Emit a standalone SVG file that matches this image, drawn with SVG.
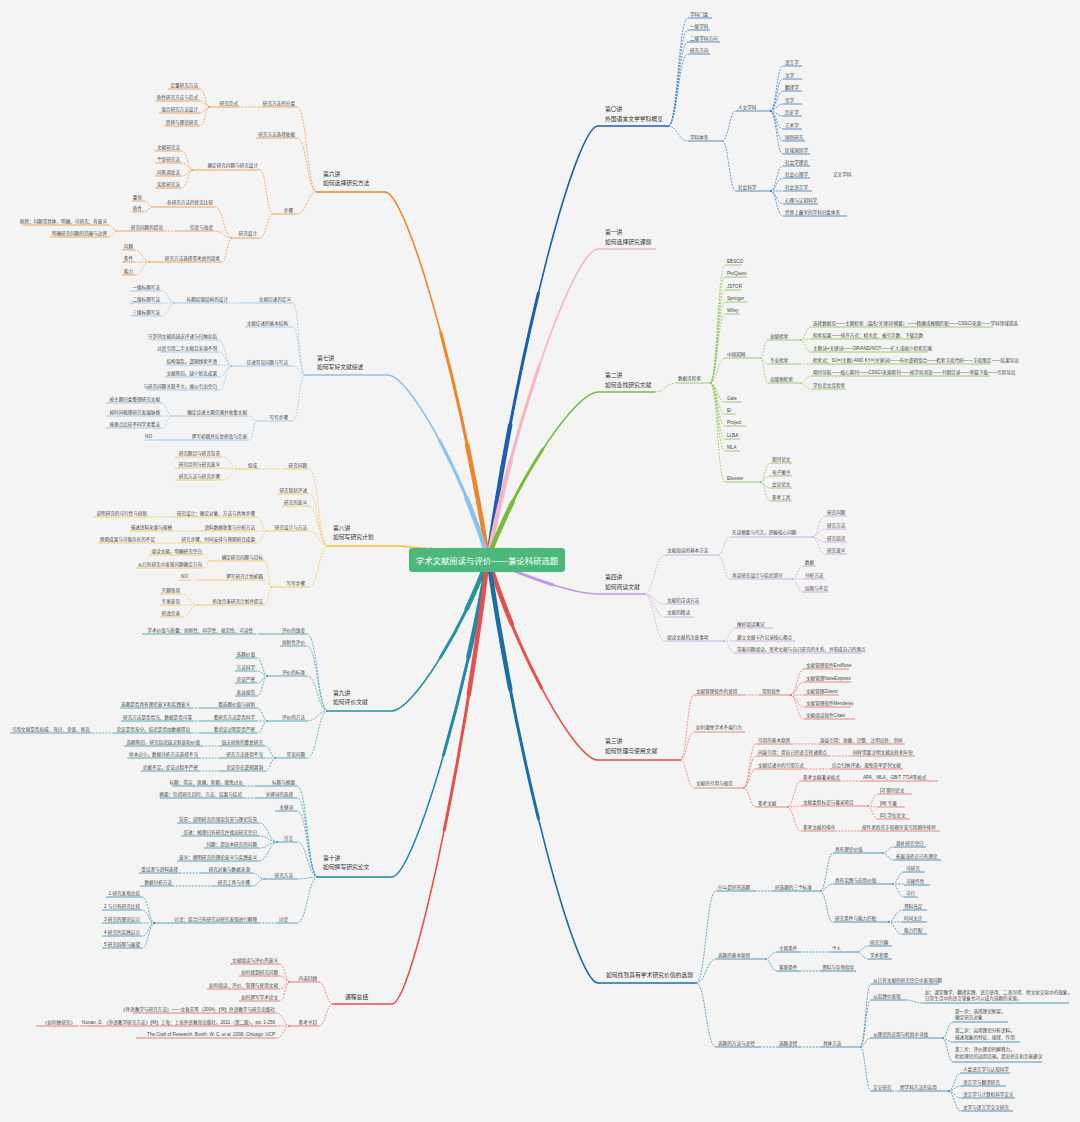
<svg xmlns="http://www.w3.org/2000/svg" width="1080" height="1122" viewBox="0 0 1080 1122">
<style>
.t{font-family:"Liberation Sans","Noto Sans CJK SC",sans-serif;font-size:4.6px;fill:#444}
.e{text-anchor:end}
.h{font-family:"Liberation Sans","Noto Sans CJK SC",sans-serif;font-size:5.8px;fill:#333}
.c{font-family:"Liberation Sans","Noto Sans CJK SC",sans-serif;font-size:8.4px;fill:#fff;text-anchor:middle}
.u{fill:none;stroke-width:.8}
.ut{fill:none;stroke-width:1.4}
.d{fill:none;stroke-width:.7;stroke-dasharray:2 1.2}
.m{fill:none;stroke-linecap:round}
.k1{stroke:#2f74c0}.k2{stroke:#f4aebf}.k3{stroke:#84c450}.k4{stroke:#c6a0e2}.k5{stroke:#e86a60}.k6{stroke:#2a7fb0}
.k7{stroke:#f0913a}.k8{stroke:#8fc3ec}.k9{stroke:#f3c24a}.k10{stroke:#2f9aaa}.k11{stroke:#2a8db0}.k12{stroke:#e8605a}
</style>
<rect width="1080" height="1122" fill="#f4f4f4"/>
<g id="connectors">
<g id="main-branches">
<g class="m" stroke="#1c5fae"><path d="M488 558C519 342 576 126 598 126" stroke-width="1.6"/><path d="M488 558C519 342 576 126 598 126" stroke-width="3" pathLength="100" stroke-dasharray="60 200"/><path d="M488 558C519 342 576 126 598 126" stroke-width="4.5" pathLength="100" stroke-dasharray="30 200"/></g>
<g class="m" stroke="#f6b4c4"><path d="M488 558C519 403 576 249 598 249" stroke-width="1.6"/><path d="M488 558C519 403 576 249 598 249" stroke-width="3" pathLength="100" stroke-dasharray="60 200"/><path d="M488 558C519 403 576 249 598 249" stroke-width="4.5" pathLength="100" stroke-dasharray="30 200"/></g>
<g class="m" stroke="#76bc3c"><path d="M488 558C519 475 576 392 598 392" stroke-width="1.6"/><path d="M488 558C519 475 576 392 598 392" stroke-width="3" pathLength="100" stroke-dasharray="60 200"/><path d="M488 558C519 475 576 392 598 392" stroke-width="4.5" pathLength="100" stroke-dasharray="30 200"/></g>
<g class="m" stroke="#c597e6"><path d="M488 558C519 576 576 594 598 594" stroke-width="1.6"/><path d="M488 558C519 576 576 594 598 594" stroke-width="3" pathLength="100" stroke-dasharray="60 200"/></g>
<g class="m" stroke="#e4504a"><path d="M488 558C519 659 576 760 598 760" stroke-width="1.6"/><path d="M488 558C519 659 576 760 598 760" stroke-width="3" pathLength="100" stroke-dasharray="60 200"/><path d="M488 558C519 659 576 760 598 760" stroke-width="4.5" pathLength="100" stroke-dasharray="30 200"/></g>
<g class="m" stroke="#1b6fa3"><path d="M488 558C519 770 576 983 598 983" stroke-width="1.6"/><path d="M488 558C519 770 576 983 598 983" stroke-width="3" pathLength="100" stroke-dasharray="60 200"/><path d="M488 558C519 770 576 983 598 983" stroke-width="4.5" pathLength="100" stroke-dasharray="30 200"/></g>
<g class="m" stroke="#ee8528"><path d="M488 558C459 375 406 192 385 192" stroke-width="1.6"/><path d="M488 558C459 375 406 192 385 192" stroke-width="3" pathLength="100" stroke-dasharray="60 200"/><path d="M488 558C459 375 406 192 385 192" stroke-width="4.5" pathLength="100" stroke-dasharray="30 200"/></g>
<g class="m" stroke="#8cc2ee"><path d="M488 558C460 466 408 375 388 375" stroke-width="1.6"/><path d="M488 558C460 466 408 375 388 375" stroke-width="3" pathLength="100" stroke-dasharray="60 200"/><path d="M488 558C460 466 408 375 388 375" stroke-width="4.5" pathLength="100" stroke-dasharray="30 200"/></g>
<g class="m" stroke="#f4bf3a"><path d="M488 558C461 552 411 546 392 546" stroke-width="1.6"/><path d="M488 558C461 552 411 546 392 546" stroke-width="3" pathLength="100" stroke-dasharray="60 200"/></g>
<g class="m" stroke="#27929f"><path d="M488 558C461 634 411 711 392 711" stroke-width="1.6"/><path d="M488 558C461 634 411 711 392 711" stroke-width="3" pathLength="100" stroke-dasharray="60 200"/><path d="M488 558C461 634 411 711 392 711" stroke-width="4.5" pathLength="100" stroke-dasharray="30 200"/></g>
<g class="m" stroke="#2188a9"><path d="M488 558C461 717 411 877 392 877" stroke-width="1.6"/><path d="M488 558C461 717 411 877 392 877" stroke-width="3" pathLength="100" stroke-dasharray="60 200"/><path d="M488 558C461 717 411 877 392 877" stroke-width="4.5" pathLength="100" stroke-dasharray="30 200"/></g>
<g class="m" stroke="#e4504a"><path d="M488 558C461 781 411 1004 392 1004" stroke-width="1.6"/><path d="M488 558C461 781 411 1004 392 1004" stroke-width="3" pathLength="100" stroke-dasharray="60 200"/><path d="M488 558C461 781 411 1004 392 1004" stroke-width="4.5" pathLength="100" stroke-dasharray="30 200"/></g>
</g>
<g class="d k1">
<path d="M668 126C678 126 678 18 688 18M668 126C678 126 678 30 688 30M668 126C678 126 678 42 688 42M668 126C678 126 678 54 688 54M668 126C678 126 678 141 688 141"/>
<path d="M722 141C729 141 729 111 736 111M722 141C729 141 729 191 736 191"/>
<path d="M770 111C776.5 111 776.5 66 783 66M770 111C776.5 111 776.5 79 783 79M770 111C776.5 111 776.5 91 783 91M770 111C776.5 111 776.5 104 783 104M770 111C776.5 111 776.5 116 783 116M770 111C776.5 111 776.5 129 783 129M770 111C776.5 111 776.5 141 783 141M770 111C776.5 111 776.5 154 783 154"/>
<path d="M770 191C776.5 191 776.5 166 783 166M770 191C776.5 191 776.5 178 783 178M770 191H783M770 191C776.5 191 776.5 204 783 204M770 191C776.5 191 776.5 216 783 216"/>
</g>
<g class="d k3">
<path d="M655 392C665.5 392 665.5 383 676 383"/>
<path d="M710 383C717.5 383 717.5 265 725 265M710 383C717.5 383 717.5 277 725 277M710 383C717.5 383 717.5 290 725 290M710 383C717.5 383 717.5 302 725 302M710 383C717.5 383 717.5 314 725 314M710 383C717.5 383 717.5 358 725 358M710 383C717.5 383 717.5 402 725 402M710 383C717.5 383 717.5 414 725 414M710 383C717.5 383 717.5 426 725 426M710 383C717.5 383 717.5 439 725 439M710 383C717.5 383 717.5 451 725 451M710 383C717.5 383 717.5 482 725 482"/>
<path d="M760 358C764 358 764 340 768 340M760 358C764 358 764 364 768 364M760 358C764 358 764 383 768 383"/>
<path d="M800 340C805.5 340 805.5 327 811 327M800 340C805.5 340 805.5 339 811 339M800 340C805.5 340 805.5 352 811 352M800 364H811M800 383C805.5 383 805.5 376 811 376M800 383C805.5 383 805.5 389 811 389"/>
<path d="M760 482C765 482 765 463 770 463M760 482C765 482 765 476 770 476M760 482C765 482 765 488 770 488M760 482C765 482 765 501 770 501"/>
</g>
<g class="d k4">
<path d="M644 594C654.5 594 654.5 555 665 555M644 594C654.5 594 654.5 604 665 604M644 594C654.5 594 654.5 617 665 617M644 594C654.5 594 654.5 641 665 641"/>
<path d="M718 555C724 555 724 537 730 537M718 555C724 555 724 579 730 579"/>
<path d="M812 537C818.5 537 818.5 516 825 516M812 537C818.5 537 818.5 529 825 529M812 537C818.5 537 818.5 542 825 542M812 537C818.5 537 818.5 554 825 554"/>
<path d="M792 579C797.5 579 797.5 566 803 566M792 579H803M792 579C797.5 579 797.5 592 803 592"/>
<path d="M723 641C729 641 729 628 735 628M723 641H735M723 641C729 641 729 653 735 653"/>
</g>
<g class="d k5">
<path d="M680 760C687 760 687 695 694 695M680 760C687 760 687 732 694 732M680 760C687 760 687 788 694 788"/>
<path d="M745 695H758M792 744H818M829 756H851M806 769H830M840 781H861M835 831H860"/>
<path d="M790 695C797 695 797 669 804 669M790 695C797 695 797 682 804 682M790 695H804M790 695C797 695 797 707 804 707M790 695C797 695 797 719 804 719"/>
<path d="M743 788C749.5 788 749.5 744 756 744M743 788C749.5 788 749.5 756 756 756M743 788C749.5 788 749.5 769 756 769M743 788C749.5 788 749.5 807 756 807"/>
<path d="M787 807C794 807 794 781 801 781M787 807C794 807 794 806 801 806M787 807C794 807 794 831 801 831"/>
<path d="M867 806C872.5 806 872.5 794 878 794M867 806C872.5 806 872.5 807 878 807M867 806C872.5 806 872.5 819 878 819"/>
</g>
<g class="d k6">
<path d="M696 983C706 983 706 891 716 891M696 983C706 983 706 959 716 959M696 983C706 983 706 1047 716 1047"/>
<path d="M755 891H773M800 952H830M800 971H820M760 1047H777M800 1047H821M892 1091H898"/>
<path d="M820 891C826.5 891 826.5 853 833 853M820 891C826.5 891 826.5 884 833 884M820 891C826.5 891 826.5 922 833 922"/>
<path d="M882 853C888 853 888 847 894 847M882 853C888 853 888 860 894 860"/>
<path d="M892 884C898 884 898 872 904 872M892 884H904M892 884C898 884 898 897 904 897"/>
<path d="M888 922C895 922 895 910 902 910M888 922H902M888 922C895 922 895 934 902 934"/>
<path d="M765 959C771 959 771 952 777 952M765 959C771 959 771 971 777 971"/>
<path d="M857 952C862.5 952 862.5 946 868 946M857 952C862.5 952 862.5 959 868 959"/>
<path d="M860 1047C865.5 1047 865.5 984 871 984M860 1047C865.5 1047 865.5 1000 871 1000M860 1047C865.5 1047 865.5 1038 871 1038M860 1047C865.5 1047 865.5 1091 871 1091"/>
<path d="M905 1000C914 1000 914 1003 923 1003"/>
<path d="M942 1038C947.5 1038 947.5 1022 953 1022M942 1038C947.5 1038 947.5 1042 953 1042M942 1038C947.5 1038 947.5 1062 953 1062"/>
<path d="M948 1091C954.5 1091 954.5 1073 961 1073M948 1091C954.5 1091 954.5 1086 961 1086M948 1091C954.5 1091 954.5 1098 961 1098M948 1091C954.5 1091 954.5 1111 961 1111"/>
</g>
<g class="d k7">
<path d="M317 192C307 192 307 107 297 107M317 192C307 192 307 138 297 138M317 192C307 192 307 214 297 214"/>
<path d="M263 107H240M176 231H165"/>
<path d="M210 107C205 107 205 89 200 89M210 107C205 107 205 101 200 101M210 107C205 107 205 113 200 113M210 107C205 107 205 126 200 126"/>
<path d="M273 214C266.5 214 266.5 170 260 170M273 214C266.5 214 266.5 238 260 238"/>
<path d="M193 170C187.5 170 187.5 151 182 151M193 170C187.5 170 187.5 163 182 163M193 170C187.5 170 187.5 176 182 176M193 170C187.5 170 187.5 188 182 188"/>
<path d="M232 238C223.5 238 223.5 207 215 207M232 238C223.5 238 223.5 231 215 231M232 238C227 238 227 262 222 262"/>
<path d="M153 207C148.5 207 148.5 201 144 201M153 207C148.5 207 148.5 212 144 212"/>
<path d="M117 231C113 231 113 225 109 225M117 231C113 231 113 237 109 237"/>
<path d="M150 262C142.5 262 142.5 250 135 250M150 262H135M150 262C142.5 262 142.5 275 135 275"/>
</g>
<g class="d k8">
<path d="M305 375C299 375 299 303 293 303M305 375C299 375 299 327 293 327M305 375C299 375 299 366 293 366M305 375C299 375 299 421 293 421"/>
<path d="M240 303H230M158 440H154"/>
<path d="M175 303C168.5 303 168.5 291 162 291M175 303H162M175 303C168.5 303 168.5 316 162 316"/>
<path d="M232 366C225.5 366 225.5 340 219 340M232 366C225.5 366 225.5 352 219 352M232 366C225.5 366 225.5 365 219 365M232 366C225.5 366 225.5 377 219 377M232 366C225.5 366 225.5 390 219 390"/>
<path d="M257 421C253 421 253 416 249 416M257 421C253 421 253 440 249 440"/>
<path d="M172 416C167 416 167 403 162 403M172 416H162M172 416C167 416 167 428 162 428"/>
</g>
<g class="d k9">
<path d="M328 546C318.5 546 318.5 469 309 469M328 546C318.5 546 318.5 494 309 494M328 546C318.5 546 318.5 506 309 506M328 546C318.5 546 318.5 531 309 531M328 546C318.5 546 318.5 587 309 587"/>
<path d="M283 469H259M175 517H149M200 531H174M179 543H157M198 580H190"/>
<path d="M240 469C231 469 231 457 222 457M240 469C231 469 231 468 222 468M240 469C231 469 231 480 222 480"/>
<path d="M267 531C262 531 262 517 257 517M267 531H257M267 531C262 531 262 543 257 543"/>
<path d="M272 587C268.5 587 268.5 561 265 561M272 587C268.5 587 268.5 580 265 580M272 587C268.5 587 268.5 605 265 605"/>
<path d="M210 561C207 561 207 555 204 555M210 561C207 561 207 568 204 568"/>
<path d="M198 605C190 605 190 594 182 594M198 605H182M198 605C190 605 190 617 182 617"/>
</g>
<g class="d k10">
<path d="M328 711C317.5 711 317.5 634 307 634M328 711C317.5 711 317.5 646 307 646M328 711C317.5 711 317.5 676 307 676M328 711C317.5 711 317.5 721 307 721M328 711C317.5 711 317.5 758 307 758"/>
<path d="M260 634H255M200 708H192M200 721H194M200 733H192M114 733H92M220 746H202M220 758H200M220 771H200"/>
<path d="M268 676C262.5 676 262.5 658 257 658M268 676C262.5 676 262.5 671 257 671M268 676C262.5 676 262.5 683 257 683M268 676C262.5 676 262.5 696 257 696"/>
<path d="M268 721C262.5 721 262.5 708 257 708M268 721H257M268 721C262.5 721 262.5 733 257 733"/>
<path d="M276 758C270.5 758 270.5 746 265 746M276 758H265M276 758C270.5 758 270.5 771 265 771"/>
</g>
<g class="d k11">
<path d="M318 877C307.5 877 307.5 786 297 786M318 877C307.5 877 307.5 798 297 798M318 877C307.5 877 307.5 811 297 811M318 877C307.5 877 307.5 842 297 842M318 877C307.5 877 307.5 879 297 879M318 877C307.5 877 307.5 923 297 923"/>
<path d="M256 786H245M256 798H244M201 873H180M213 886H174M277 923H259"/>
<path d="M278 842C268.5 842 268.5 823 259 823M278 842C268.5 842 268.5 836 259 836M278 842C268.5 842 268.5 848 259 848M278 842C268.5 842 268.5 861 259 861"/>
<path d="M265 879C258.5 879 258.5 873 252 873M265 879C258.5 879 258.5 886 252 886"/>
<path d="M155 923C148.5 923 148.5 897 142 897M155 923C148.5 923 148.5 910 142 910M155 923H142M155 923C148.5 923 148.5 936 142 936M155 923C148.5 923 148.5 948 142 948"/>
</g>
<g class="d k12">
<path d="M333 1004C326 1004 326 982 319 982M333 1004C326 1004 326 1026 319 1026"/>
<path d="M290 982C285 982 285 964 280 964M290 982C285 982 285 976 280 976M290 982C285 982 285 989 280 989M290 982C285 982 285 1001 280 1001"/>
<path d="M290 1026C283.5 1026 283.5 1013 277 1013M290 1026H277M290 1026C283.5 1026 283.5 1038 277 1038M82 1026H77"/>
</g>
</g>

<g id="center"><rect x="409" y="548" width="156" height="24" rx="3" fill="#4cb87c"/><text class="c" x="487" y="563.5">学术文献阅读与评价——兼论科研选题</text></g>

<!-- B1 -->
<g id="b1"><text class="h" x="605" y="111">第〇讲</text><text class="h" x="605" y="121">外国语言文学学科概览</text><path class="ut" stroke="#1c5fae" d="M598 126H668"/></g>
<g id="b1-1"><text class="t" x="690" y="15.7">学科门类</text><path class="u k1" d="M688 18H712"/></g>
<g id="b1-2"><text class="t" x="690" y="27.7">一级学科</text><path class="u k1" d="M688 30H710"/></g>
<g id="b1-3"><text class="t" x="690" y="39.7">二级学科方向</text><path class="u k1" d="M688 42H720"/></g>
<g id="b1-4"><text class="t" x="690" y="51.7">研究方向</text><path class="u k1" d="M688 54H710"/></g>
<g id="b1-5"><text class="t" x="690" y="138.7">学科体系</text><path class="u k1" d="M688 141H722"/></g>
<g id="b1-5-1"><text class="t" x="738" y="108.7">人文学科</text><path class="u k1" d="M736 111H770"/></g>
<g id="b1-5-2"><text class="t" x="738" y="188.7">社会科学</text><path class="u k1" d="M736 191H770"/></g>
<g id="b1-a1"><text class="t" x="785" y="63.7">语言学</text><path class="u k1" d="M783 66H802"/></g>
<g id="b1-a2"><text class="t" x="785" y="76.7">文学</text><path class="u k1" d="M783 79H802"/></g>
<g id="b1-a3"><text class="t" x="785" y="88.7">翻译学</text><path class="u k1" d="M783 91H802"/></g>
<g id="b1-a4"><text class="t" x="785" y="101.7">哲学</text><path class="u k1" d="M783 104H802"/></g>
<g id="b1-a5"><text class="t" x="785" y="113.7">历史学</text><path class="u k1" d="M783 116H802"/></g>
<g id="b1-a6"><text class="t" x="785" y="126.7">艺术学</text><path class="u k1" d="M783 129H802"/></g>
<g id="b1-a7"><text class="t" x="785" y="138.7">国别研究</text><path class="u k1" d="M783 141H805"/></g>
<g id="b1-a8"><text class="t" x="785" y="151.7">区域国别学</text><path class="u k1" d="M783 154H810"/></g>
<g id="b1-b1"><text class="t" x="785" y="163.7">社会学理论</text><path class="u k1" d="M783 166H810"/></g>
<g id="b1-b2"><text class="t" x="785" y="175.7">社会心理学</text><path class="u k1" d="M783 178H810"/><text class="t" x="833" y="175.7">交叉学科</text></g>
<g id="b1-b3"><text class="t" x="785" y="188.7">社会语言学</text><path class="u k1" d="M783 191H812"/></g>
<g id="b1-b4"><text class="t" x="785" y="201.7">心理与认知科学</text><path class="u k1" d="M783 204H818"/></g>
<g id="b1-b5"><text class="t" x="785" y="213.7">世界上最早的学科分类体系</text><path class="u k1" d="M783 216H847"/></g>

<!-- B2 -->
<g id="b2"><text class="h" x="605" y="234">第一讲</text><text class="h" x="605" y="244">如何选择研究课题</text><path class="ut" stroke="#f6b4c4" d="M598 249H656"/></g>

<!-- B3 -->
<g id="b3"><text class="h" x="605" y="377">第二讲</text><text class="h" x="605" y="387">如何查找研究文献</text><path class="ut" stroke="#76bc3c" d="M598 392H655"/></g>
<g id="b3-1"><text class="t" x="678" y="379.7">数据库检索</text><path class="u k3" d="M676 383H710"/></g>
<g id="b3-d1"><text class="t" x="727" y="262.7">EBSCO</text><path class="u k3" d="M725 265H742"/></g>
<g id="b3-d2"><text class="t" x="727" y="274.7">ProQuest</text><path class="u k3" d="M725 277H747"/></g>
<g id="b3-d3"><text class="t" x="727" y="287.7">JSTOR</text><path class="u k3" d="M725 290H741"/></g>
<g id="b3-d4"><text class="t" x="727" y="299.7">Springer</text><path class="u k3" d="M725 302H747"/></g>
<g id="b3-d5"><text class="t" x="727" y="311.7">Wiley</text><path class="u k3" d="M725 314H740"/></g>
<g id="b3-d6"><text class="t" x="727" y="355.7">中国知网</text><path class="u k3" d="M725 358H760"/></g>
<g id="b3-d7"><text class="t" x="727" y="399.7">Gale</text><path class="u k3" d="M725 402H742"/></g>
<g id="b3-d8"><text class="t" x="727" y="411.7">EI</text><path class="u k3" d="M725 414H736"/></g>
<g id="b3-d9"><text class="t" x="727" y="423.7">Project</text><path class="u k3" d="M725 426H746"/></g>
<g id="b3-d10"><text class="t" x="727" y="436.7">LLBA</text><path class="u k3" d="M725 439H740"/></g>
<g id="b3-d11"><text class="t" x="727" y="448.7">MLA</text><path class="u k3" d="M725 451H740"/></g>
<g id="b3-d12"><text class="t" x="727" y="479.7">Elsevier</text><path class="u k3" d="M725 482H760"/></g>
<g id="b3-e1"><text class="t" x="770" y="337.7">高级检索</text><path class="u k3" d="M768 340H800"/></g>
<g id="b3-e2"><text class="t" x="770" y="361.7">专业检索</text><path class="u k3" d="M768 364H800"/></g>
<g id="b3-e3"><text class="t" x="770" y="380.7">出版物检索</text><path class="u k3" d="M768 383H800"/></g>
<g id="b3-f1"><text class="t" x="813" y="324.7">选择数据库——主题检索（篇名/关键词/摘要）——精确或模糊匹配——CSSCI来源——学科领域筛选</text><path class="u k3" d="M811 327H993"/></g>
<g id="b3-f2"><text class="t" x="813" y="336.7">检索结果——排序方式：相关度、被引次数、下载次数</text><path class="u k3" d="M811 339H920"/></g>
<g id="b3-f3"><text class="t" x="813" y="349.7">主题词+关键词——OR/AND/NOT——扩大或缩小检索范围</text><path class="u k3" d="M811 352H928"/></g>
<g id="b3-f4"><text class="t" x="813" y="361.7">检索式：SU=(主题) AND KY=(关键词)——布尔逻辑组合——检索字段代码——字段限定——结果导出</text><path class="u k3" d="M811 364H990"/></g>
<g id="b3-f5"><text class="t" x="813" y="373.7">期刊导航——核心期刊——CSSCI来源期刊——按学科浏览——刊期目录——单篇下载——引用导出</text><path class="u k3" d="M811 376H990"/></g>
<g id="b3-f6"><text class="t" x="813" y="386.7">学位论文库检索</text><path class="u k3" d="M811 389H846"/></g>
<g id="b3-g1"><text class="t" x="772" y="460.7">期刊论文</text><path class="u k3" d="M770 463H792"/></g>
<g id="b3-g2"><text class="t" x="772" y="473.7">电子图书</text><path class="u k3" d="M770 476H792"/></g>
<g id="b3-g3"><text class="t" x="772" y="485.7">会议论文</text><path class="u k3" d="M770 488H792"/></g>
<g id="b3-g4"><text class="t" x="772" y="498.7">参考工具</text><path class="u k3" d="M770 501H792"/></g>

<!-- B4 -->
<g id="b4"><text class="h" x="605" y="579">第四讲</text><text class="h" x="605" y="589">如何阅读文献</text><path class="ut" stroke="#c597e6" d="M598 594H644"/></g>
<g id="b4-1"><text class="t" x="667" y="551.7">文献阅读的基本方法</text><path class="u k4" d="M665 555H718"/></g>
<g id="b4-2"><text class="t" x="667" y="601.7">文献的泛读方法</text><path class="u k4" d="M665 604H700"/></g>
<g id="b4-3"><text class="t" x="667" y="613.7">文献的精读</text><path class="u k4" d="M665 617H694"/></g>
<g id="b4-4"><text class="t" x="667" y="638.7">阅读文献的注意事项</text><path class="u k4" d="M665 641H723"/></g>
<g id="b4-1-1"><text class="t" x="732" y="533.7">先读摘要与引言，把握核心问题</text><path class="u k4" d="M730 537H812"/></g>
<g id="b4-1-2"><text class="t" x="732" y="576.7">再读研究设计与结论部分</text><path class="u k4" d="M730 579H792"/></g>
<g id="b4-h1"><text class="t" x="827" y="513.7">研究问题</text><path class="u k4" d="M825 516H847"/></g>
<g id="b4-h2"><text class="t" x="827" y="526.7">研究方法</text><path class="u k4" d="M825 529H847"/></g>
<g id="b4-h3"><text class="t" x="827" y="539.7">研究结论</text><path class="u k4" d="M825 542H847"/></g>
<g id="b4-h4"><text class="t" x="827" y="551.7">研究意义</text><path class="u k4" d="M825 554H847"/></g>
<g id="b4-i1"><text class="t" x="805" y="563.7">数据</text><path class="u k4" d="M803 566H816"/></g>
<g id="b4-i2"><text class="t" x="805" y="576.7">分析方法</text><path class="u k4" d="M803 579H825"/></g>
<g id="b4-i3"><text class="t" x="805" y="589.7">局限与不足</text><path class="u k4" d="M803 592H829"/></g>
<g id="b4-j1"><text class="t" x="737" y="625.7">做好阅读笔记</text><path class="u k4" d="M735 628H773"/></g>
<g id="b4-j2"><text class="t" x="737" y="638.7">建立文献卡片记录核心观点</text><path class="u k4" d="M735 641H795"/></g>
<g id="b4-j3"><text class="t" x="737" y="650.7">带着问题阅读，思考文献与自己研究的关系，并形成自己的观点</text><path class="u k4" d="M735 653H862"/></g>

<!-- B5 -->
<g id="b5"><text class="h" x="605" y="743">第三讲</text><text class="h" x="605" y="753">如何管理与使用文献</text><path class="ut" stroke="#e4504a" d="M598 760H680"/></g>
<g id="b5-1"><text class="t" x="696" y="692.7">文献管理软件的使用</text><path class="u k5" d="M694 695H745"/></g>
<g id="b5-1-1"><text class="t" x="762" y="692.7">常用软件</text><path class="u k5" d="M758 695H790"/></g>
<g id="b5-2"><text class="t" x="696" y="728.7">如何避免学术不端行为</text><path class="u k5" d="M694 732H745"/></g>
<g id="b5-3"><text class="t" x="696" y="784.7">文献的引用与规范</text><path class="u k5" d="M694 788H743"/></g>
<g id="b5-s1"><text class="t" x="806" y="666.7">文献管理软件EndNote</text><path class="u k5" d="M804 669H849"/></g>
<g id="b5-s2"><text class="t" x="806" y="679.7">文献管理NoteExpress</text><path class="u k5" d="M804 682H851"/></g>
<g id="b5-s3"><text class="t" x="806" y="692.7">文献管理Zotero</text><path class="u k5" d="M804 695H839"/></g>
<g id="b5-s4"><text class="t" x="806" y="704.7">文献管理软件Mendeley</text><path class="u k5" d="M804 707H851"/></g>
<g id="b5-s5"><text class="t" x="806" y="716.7">文献阅读软件Citavi</text><path class="u k5" d="M804 719H855"/></g>
<g id="b5-j1"><text class="t" x="758" y="741.7">引用的基本原则</text><path class="u k5" d="M756 744H792"/></g>
<g id="b5-j1-1"><text class="t" x="820" y="741.7">直接引用：准确、完整、注明出处、页码</text><path class="u k5" d="M818 744H905"/></g>
<g id="b5-j2"><text class="t" x="758" y="753.7">间接引用：用自己的语言转述观点</text><path class="u k5" d="M756 756H829"/></g>
<g id="b5-j2-1"><text class="t" x="853" y="753.7">同样需要注明文献出处和年份</text><path class="u k5" d="M851 756H915"/></g>
<g id="b5-j3"><text class="t" x="758" y="766.7">文献综述中的引用方式</text><path class="u k5" d="M756 769H806"/></g>
<g id="b5-j3-1"><text class="t" x="832" y="766.7">综合归纳评述，避免简单罗列文献</text><path class="u k5" d="M830 769H903"/></g>
<g id="b5-j4"><text class="t" x="758" y="804.7">参考文献</text><path class="u k5" d="M756 807H787"/></g>
<g id="b5-k1"><text class="t" x="803" y="778.7">参考文献著录格式</text><path class="u k5" d="M801 781H840"/></g>
<g id="b5-k1-1"><text class="t" x="863" y="778.7">APA、MLA、GB/T 7714等格式</text><path class="u k5" d="M861 781H938"/></g>
<g id="b5-k2"><text class="t" x="803" y="803.7">文献类型标识与著录项目</text><path class="u k5" d="M801 806H867"/></g>
<g id="b5-k3"><text class="t" x="803" y="828.7">参考文献的排序</text><path class="u k5" d="M801 831H835"/></g>
<g id="b5-k3-1"><text class="t" x="862" y="828.7">按作者姓氏字母顺序或引用顺序排列</text><path class="u k5" d="M860 831H940"/></g>
<g id="b5-m1"><text class="t" x="880" y="791.7">[J] 期刊论文</text><path class="u k5" d="M878 794H912"/></g>
<g id="b5-m2"><text class="t" x="880" y="804.7">[M] 专著</text><path class="u k5" d="M878 807H905"/></g>
<g id="b5-m3"><text class="t" x="880" y="816.7">[D] 学位论文</text><path class="u k5" d="M878 819H910"/></g>

<!-- B6 -->
<g id="b6"><text class="h" x="606" y="977">如何找到具有学术研究价值的选题</text><path class="ut" stroke="#1b6fa3" d="M598 983H696"/></g>
<g id="b6-1"><text class="t" x="718" y="888.7">什么是好的选题</text><path class="u k6" d="M716 891H755"/></g>
<g id="b6-1-1"><text class="t" x="775" y="888.7">好选题的三个标准</text><path class="u k6" d="M773 891H820"/></g>
<g id="b6-2"><text class="t" x="718" y="956.7">选题的基本原则</text><path class="u k6" d="M716 959H765"/></g>
<g id="b6-3"><text class="t" x="718" y="1044.7">选题的方法与途径</text><path class="u k6" d="M716 1047H760"/></g>
<g id="b6-3-1"><text class="t" x="779" y="1044.7">选题途径</text><path class="u k6" d="M777 1047H800"/></g>
<g id="b6-3-2"><text class="t" x="823" y="1044.7">具体方法</text><path class="u k6" d="M821 1047H860"/></g>
<g id="b6-m1"><text class="t" x="835" y="850.7">具有理论价值</text><path class="u k6" d="M833 853H882"/></g>
<g id="b6-m2"><text class="t" x="835" y="881.7">具有实践与应用价值</text><path class="u k6" d="M833 884H892"/></g>
<g id="b6-m3"><text class="t" x="835" y="919.7">研究条件与能力匹配</text><path class="u k6" d="M833 922H888"/></g>
<g id="b6-m1-1"><text class="t" x="896" y="844.7">填补研究空白</text><path class="u k6" d="M894 847H926"/></g>
<g id="b6-m1-2"><text class="t" x="896" y="857.7">拓展或修正已有理论</text><path class="u k6" d="M894 860H941"/></g>
<g id="b6-m2-1"><text class="t" x="906" y="869.7">可研究</text><path class="u k6" d="M904 872H925"/></g>
<g id="b6-m2-2"><text class="t" x="906" y="882.7">可操作性</text><path class="u k6" d="M904 885H930"/></g>
<g id="b6-m2-3"><text class="t" x="906" y="894.7">可行</text><path class="u k6" d="M904 897H918"/></g>
<g id="b6-m3-1"><text class="t" x="904" y="907.7">资料充足</text><path class="u k6" d="M902 910H927"/></g>
<g id="b6-m3-2"><text class="t" x="904" y="919.7">时间允许</text><path class="u k6" d="M902 922H927"/></g>
<g id="b6-m3-3"><text class="t" x="904" y="931.7">能力匹配</text><path class="u k6" d="M902 934H927"/></g>
<g id="b6-n1"><text class="t" x="779" y="949.7">主观条件</text><path class="u k6" d="M777 952H800"/></g>
<g id="b6-n1-1"><text class="t" x="832" y="949.7">个人</text><path class="u k6" d="M830 952H857"/></g>
<g id="b6-n1-a"><text class="t" x="870" y="943.7">研究兴趣</text><path class="u k6" d="M868 946H892"/></g>
<g id="b6-n1-b"><text class="t" x="870" y="956.7">学术积累</text><path class="u k6" d="M868 959H892"/></g>
<g id="b6-n2"><text class="t" x="779" y="968.7">客观条件</text><path class="u k6" d="M777 971H800"/></g>
<g id="b6-n2-1"><text class="t" x="822" y="968.7">资料与导师指导</text><path class="u k6" d="M820 971H856"/></g>
<g id="b6-o1"><text class="t" x="873" y="981.7">从已有文献的研究空白中发现问题</text><path class="u k6" d="M871 984H939"/></g>
<g id="b6-o2"><text class="t" x="873" y="997.7">从实践中发现</text><path class="u k6" d="M871 1000H905"/></g>
<g id="b6-o2-1"><text class="t" x="925" y="993.7">如：课堂教学、翻译实践、语言使用、二语习得、跨文化交际中的现象，</text><text class="t" x="925" y="999.7">日常生活中的语言现象也可以成为选题的来源。</text><path class="u k6" d="M923 1003H1069"/></g>
<g id="b6-o3"><text class="t" x="873" y="1035.7">从理论的应用与检验中寻找</text><path class="u k6" d="M871 1038H942"/></g>
<g id="b6-o4"><text class="t" x="873" y="1088.7">交叉研究</text><path class="u k6" d="M871 1091H892"/></g>
<g id="b6-o4-1"><text class="t" x="900" y="1088.7">跨学科方法的运用</text><path class="u k6" d="M898 1091H948"/></g>
<g id="b6-p1"><text class="t" x="955" y="1013">第一步：选择理论框架，</text><text class="t" x="955" y="1019">确定研究对象</text><path class="u k6" d="M953 1022H1008"/></g>
<g id="b6-p2"><text class="t" x="955" y="1032">第二步：运用理论分析语料，</text><text class="t" x="955" y="1038.5">描述现象的特征、规律、作用</text><path class="u k6" d="M953 1042H1020"/></g>
<g id="b6-p3"><text class="t" x="955" y="1051">第三步：评价理论的解释力，</text><text class="t" x="955" y="1057.5">检验理论的适用范围，提出修正和完善建议</text><path class="u k6" d="M953 1062H1042"/></g>
<g id="b6-q1"><text class="t" x="963" y="1070.7">人类语言学与认知科学</text><path class="u k6" d="M961 1073H1010"/></g>
<g id="b6-q2"><text class="t" x="963" y="1083.7">语言学与翻译研究</text><path class="u k6" d="M961 1086H1006"/></g>
<g id="b6-q3"><text class="t" x="963" y="1095.7">语言学与计算机科学交叉</text><path class="u k6" d="M961 1098H1015"/></g>
<g id="b6-q4"><text class="t" x="963" y="1108.7">文学与语言学交叉研究</text><path class="u k6" d="M961 1111H1013"/></g>

<!-- L1 -->
<g id="l1"><text class="h" x="323" y="176">第六讲</text><text class="h" x="323" y="185">如何选择研究方法</text><path class="ut" stroke="#ee8528" d="M317 192H385"/></g>
<g id="l1-1"><text class="t e" x="295" y="104.7">研究方法的分类</text><path class="u k7" d="M263 107H297"/></g>
<g id="l1-1-1"><text class="t e" x="238" y="104.7">研究范式</text><path class="u k7" d="M210 107H240"/></g>
<g id="l1-a1"><text class="t e" x="198" y="86.7">定量研究方法</text><path class="u k7" d="M168 89H200"/></g>
<g id="l1-a2"><text class="t e" x="198" y="98.7">质性研究方法与范式</text><path class="u k7" d="M155 101H200"/></g>
<g id="l1-a3"><text class="t e" x="198" y="110.7">混合研究方法设计</text><path class="u k7" d="M159 113H200"/></g>
<g id="l1-a4"><text class="t e" x="198" y="123.7">思辨与理论研究</text><path class="u k7" d="M164 126H200"/></g>
<g id="l1-2"><text class="t e" x="295" y="135.7">研究方法选择依据</text><path class="u k7" d="M256 138H297"/></g>
<g id="l1-3"><text class="t e" x="293" y="211.7">步骤</text><path class="u k7" d="M273 214H297"/></g>
<g id="l1-r1"><text class="t e" x="258" y="166.7">确定研究问题与研究设计</text><path class="u k7" d="M193 170H260"/></g>
<g id="l1-r1-1"><text class="t e" x="180" y="148.7">文献研究法</text><path class="u k7" d="M155 151H182"/></g>
<g id="l1-r1-2"><text class="t e" x="180" y="160.7">个案研究法</text><path class="u k7" d="M155 163H182"/></g>
<g id="l1-r1-3"><text class="t e" x="180" y="173.7">问卷调查法</text><path class="u k7" d="M155 176H182"/></g>
<g id="l1-r1-4"><text class="t e" x="180" y="185.7">实验研究法</text><path class="u k7" d="M155 188H182"/></g>
<g id="l1-r2"><text class="t e" x="257" y="234.7">研究设计</text><path class="u k7" d="M232 238H260"/></g>
<g id="l1-s1"><text class="t e" x="213" y="203.7">各研究方法的优劣比较</text><path class="u k7" d="M153 207H215"/></g>
<g id="l1-s1-1"><text class="t e" x="142" y="198.7">量化</text><path class="u k7" d="M132 201H144"/></g>
<g id="l1-s1-2"><text class="t e" x="142" y="209.7">质性</text><path class="u k7" d="M132 212H144"/></g>
<g id="l1-s2"><text class="t e" x="213" y="228.7">信度与效度</text><path class="u k7" d="M176 231H215"/></g>
<g id="l1-s2-1"><text class="t e" x="163" y="228.7">研究问题的提出</text><path class="u k7" d="M117 231H165"/></g>
<g id="l1-s2-a"><text class="t e" x="107" y="222.7">原则：问题需具体、明确、可研究、有意义</text><path class="u k7" d="M22 225H109"/></g>
<g id="l1-s2-b"><text class="t e" x="107" y="234.7">明确研究问题的范围与边界</text><path class="u k7" d="M50 237H109"/></g>
<g id="l1-s3"><text class="t e" x="220" y="259.7">研究方法选择需考虑的因素</text><path class="u k7" d="M150 262H222"/></g>
<g id="l1-s3-1"><text class="t e" x="133" y="247.7">问题</text><path class="u k7" d="M122 250H135"/></g>
<g id="l1-s3-2"><text class="t e" x="133" y="259.7">条件</text><path class="u k7" d="M122 262H135"/></g>
<g id="l1-s3-3"><text class="t e" x="133" y="272.7">能力</text><path class="u k7" d="M122 275H135"/></g>

<!-- L2 -->
<g id="l2"><text class="h" x="317" y="360">第七讲</text><text class="h" x="317" y="369">如何写好文献综述</text><path class="ut" stroke="#8cc2ee" d="M305 375H388"/></g>
<g id="l2-1"><text class="t e" x="291" y="300.7">文献综述的定义</text><path class="u k8" d="M240 303H293"/></g>
<g id="l2-1-1"><text class="t e" x="228" y="300.7">标题层级结构的设计</text><path class="u k8" d="M175 303H230"/></g>
<g id="l2-1-a"><text class="t e" x="160" y="288.7">一级标题写法</text><path class="u k8" d="M130 291H162"/></g>
<g id="l2-1-b"><text class="t e" x="160" y="300.7">二级标题写法</text><path class="u k8" d="M130 303H162"/></g>
<g id="l2-1-c"><text class="t e" x="160" y="313.7">三级标题写法</text><path class="u k8" d="M130 316H162"/></g>
<g id="l2-2"><text class="t e" x="288" y="324.7">文献综述的基本结构</text><path class="u k8" d="M245 327H293"/></g>
<g id="l2-3"><text class="t e" x="288" y="363.7">综述常见问题与写法</text><path class="u k8" d="M232 366H293"/></g>
<g id="l2-3-a"><text class="t e" x="217" y="337.7">只罗列文献而缺乏评述与归纳总结</text><path class="u k8" d="M150 340H219"/></g>
<g id="l2-3-b"><text class="t e" x="217" y="349.7">过度引用二手文献且来源不明</text><path class="u k8" d="M160 352H219"/></g>
<g id="l2-3-c"><text class="t e" x="217" y="362.7">结构混乱，逻辑线索不清</text><path class="u k8" d="M165 365H219"/></g>
<g id="l2-3-d"><text class="t e" x="217" y="374.7">文献陈旧，缺少新近成果</text><path class="u k8" d="M165 377H219"/></g>
<g id="l2-3-e"><text class="t e" x="217" y="387.7">与研究问题关联不大，难以引出空白</text><path class="u k8" d="M146 390H219"/></g>
<g id="l2-4"><text class="t e" x="288" y="418.7">写作步骤</text><path class="u k8" d="M257 421H293"/></g>
<g id="l2-4-1"><text class="t e" x="247" y="413.7">确定综述主题范围并收集文献</text><path class="u k8" d="M172 416H249"/></g>
<g id="l2-4-a"><text class="t e" x="160" y="400.7">按主题归类整理研究文献</text><path class="u k8" d="M106 403H162"/></g>
<g id="l2-4-b"><text class="t e" x="160" y="413.7">按时间梳理研究发展脉络</text><path class="u k8" d="M106 416H162"/></g>
<g id="l2-4-c"><text class="t e" x="160" y="425.7">按观点比较不同学者看法</text><path class="u k8" d="M106 428H162"/></g>
<g id="l2-4-2"><text class="t e" x="247" y="437.7">撰写初稿并反复修改与完善</text><path class="u k8" d="M158 440H249"/></g>
<g id="l2-4-2-1"><text class="t e" x="152" y="437.7">NO</text><path class="u k8" d="M145 440H154"/></g>

<!-- L3 -->
<g id="l3"><text class="h" x="333" y="530">第八讲</text><text class="h" x="333" y="539">如何写研究计划</text><path class="ut" stroke="#f4bf3a" d="M328 546H392"/></g>
<g id="l3-1"><text class="t e" x="307" y="466.7">研究问题</text><path class="u k9" d="M283 469H309"/></g>
<g id="l3-1-1"><text class="t e" x="257" y="466.7">组成</text><path class="u k9" d="M240 469H259"/></g>
<g id="l3-1-a"><text class="t e" x="220" y="454.7">研究题目与研究背景</text><path class="u k9" d="M175 457H222"/></g>
<g id="l3-1-b"><text class="t e" x="220" y="465.7">研究目的与研究意义</text><path class="u k9" d="M175 468H222"/></g>
<g id="l3-1-c"><text class="t e" x="220" y="477.7">研究方法与研究步骤</text><path class="u k9" d="M175 480H222"/></g>
<g id="l3-2"><text class="t e" x="307" y="491.7">研究现状评述</text><path class="u k9" d="M277 494H309"/></g>
<g id="l3-3"><text class="t e" x="307" y="503.7">研究的意义</text><path class="u k9" d="M282 506H309"/></g>
<g id="l3-4"><text class="t e" x="307" y="528.7">研究设计与方法</text><path class="u k9" d="M267 531H309"/></g>
<g id="l3-4-1"><text class="t e" x="255" y="514.7">研究设计：确定对象、方法与具体步骤</text><path class="u k9" d="M175 517H257"/></g>
<g id="l3-4-1-1"><text class="t e" x="147" y="514.7">说明研究的可行性与创新</text><path class="u k9" d="M94 517H149"/></g>
<g id="l3-4-2"><text class="t e" x="255" y="528.7">语料数据收集与分析方法</text><path class="u k9" d="M200 531H257"/></g>
<g id="l3-4-2-1"><text class="t e" x="172" y="528.7">描述语料来源与规模</text><path class="u k9" d="M130 531H174"/></g>
<g id="l3-4-3"><text class="t e" x="255" y="540.7">研究步骤、时间安排与预期研究成果</text><path class="u k9" d="M179 543H257"/></g>
<g id="l3-4-3-1"><text class="t e" x="155" y="540.7">预期成果与可能存在的不足</text><path class="u k9" d="M98 543H157"/></g>
<g id="l3-5"><text class="t e" x="305" y="584.7">写作步骤</text><path class="u k9" d="M272 587H309"/></g>
<g id="l3-5-1"><text class="t e" x="263" y="558.7">确定研究问题与目标</text><path class="u k9" d="M210 561H265"/></g>
<g id="l3-5-1-a"><text class="t e" x="202" y="552.7">阅读文献，明确研究空白</text><path class="u k9" d="M149 555H204"/></g>
<g id="l3-5-1-b"><text class="t e" x="202" y="565.7">从已有研究中发现问题确定方向</text><path class="u k9" d="M136 568H204"/></g>
<g id="l3-5-2"><text class="t e" x="263" y="577.7">撰写研究计划初稿</text><path class="u k9" d="M198 580H265"/></g>
<g id="l3-5-2-1"><text class="t e" x="188" y="577.7">NO</text><path class="u k9" d="M179 580H190"/></g>
<g id="l3-5-3"><text class="t e" x="263" y="602.7">修改完善研究计划并提交</text><path class="u k9" d="M198 605H265"/></g>
<g id="l3-5-3-a"><text class="t e" x="180" y="591.7">开题答辩</text><path class="u k9" d="M160 594H182"/></g>
<g id="l3-5-3-b"><text class="t e" x="180" y="602.7">专家意见</text><path class="u k9" d="M160 605H182"/></g>
<g id="l3-5-3-c"><text class="t e" x="180" y="614.7">修改完善</text><path class="u k9" d="M160 617H182"/></g>

<!-- L4 -->
<g id="l4"><text class="h" x="333" y="695">第九讲</text><text class="h" x="333" y="704">如何评价文献</text><path class="ut" stroke="#27929f" d="M328 711H392"/></g>
<g id="l4-1"><text class="t e" x="305" y="631.7">评价的维度</text><path class="u k10" d="M260 634H307"/></g>
<g id="l4-1-1"><text class="t e" x="253" y="631.7">学术价值与质量：创新性、科学性、规范性、可读性</text><path class="u k10" d="M142 634H255"/></g>
<g id="l4-2"><text class="t e" x="305" y="643.7">创新性评价</text><path class="u k10" d="M280 646H307"/></g>
<g id="l4-3"><text class="t e" x="305" y="673.7">评价的标准</text><path class="u k10" d="M268 676H307"/></g>
<g id="l4-3-a"><text class="t e" x="255" y="655.7">选题价值</text><path class="u k10" d="M235 658H257"/></g>
<g id="l4-3-b"><text class="t e" x="255" y="668.7">方法科学</text><path class="u k10" d="M235 671H257"/></g>
<g id="l4-3-c"><text class="t e" x="255" y="680.7">论证严密</text><path class="u k10" d="M235 683H257"/></g>
<g id="l4-3-d"><text class="t e" x="255" y="693.7">表达规范</text><path class="u k10" d="M235 696H257"/></g>
<g id="l4-4"><text class="t e" x="305" y="718.7">评价的方法</text><path class="u k10" d="M268 721H307"/></g>
<g id="l4-4-1"><text class="t e" x="255" y="705.7">看选题价值与创新</text><path class="u k10" d="M200 708H257"/></g>
<g id="l4-4-1-1"><text class="t e" x="190" y="705.7">选题是否具有理论意义和实践意义</text><path class="u k10" d="M120 708H192"/></g>
<g id="l4-4-2"><text class="t e" x="255" y="718.7">看研究方法是否科学</text><path class="u k10" d="M200 721H257"/></g>
<g id="l4-4-2-1"><text class="t e" x="192" y="718.7">研究方法是否恰当、数据是否可靠</text><path class="u k10" d="M121 721H194"/></g>
<g id="l4-4-3"><text class="t e" x="255" y="730.7">看论证过程是否严密</text><path class="u k10" d="M200 733H257"/></g>
<g id="l4-4-3-1"><text class="t e" x="190" y="730.7">论证是否充分，结论是否由数据得出</text><path class="u k10" d="M114 733H192"/></g>
<g id="l4-4-3-2"><text class="t e" x="90" y="730.7">引用文献是否权威、充分、全面、新近</text><path class="u k10" d="M10 733H92"/></g>
<g id="l4-5"><text class="t e" x="305" y="755.7">常见问题</text><path class="u k10" d="M276 758H307"/></g>
<g id="l4-5-1"><text class="t e" x="263" y="743.7">缺乏创新的重复研究</text><path class="u k10" d="M220 746H265"/></g>
<g id="l4-5-1-1"><text class="t e" x="200" y="743.7">选题陈旧，研究结论缺乏新意和价值</text><path class="u k10" d="M124 746H202"/></g>
<g id="l4-5-2"><text class="t e" x="263" y="755.7">研究方法使用不当</text><path class="u k10" d="M220 758H265"/></g>
<g id="l4-5-2-1"><text class="t e" x="198" y="755.7">样本过小，数据分析方法选择不当</text><path class="u k10" d="M127 758H200"/></g>
<g id="l4-5-3"><text class="t e" x="263" y="768.7">论证存在逻辑漏洞</text><path class="u k10" d="M220 771H265"/></g>
<g id="l4-5-3-1"><text class="t e" x="198" y="768.7">论据不足，论证过程不严密</text><path class="u k10" d="M141 771H200"/></g>

<!-- L5 -->
<g id="l5"><text class="h" x="323" y="860">第十讲</text><text class="h" x="323" y="869">如何撰写研究论文</text><path class="ut" stroke="#2188a9" d="M318 877H392"/></g>
<g id="l5-1"><text class="t e" x="295" y="783.7">标题与摘要</text><path class="u k11" d="M256 786H297"/></g>
<g id="l5-1-1"><text class="t e" x="243" y="783.7">标题：简洁、准确、新颖，避免过长</text><path class="u k11" d="M172 786H245"/></g>
<g id="l5-2"><text class="t e" x="293" y="795.7">关键词的选择</text><path class="u k11" d="M256 798H297"/></g>
<g id="l5-2-1"><text class="t e" x="242" y="795.7">摘要：包括研究目的、方法、结果与结论</text><path class="u k11" d="M160 798H244"/></g>
<g id="l5-3"><text class="t e" x="293" y="808.7">关键词</text><path class="u k11" d="M275 811H297"/></g>
<g id="l5-4"><text class="t e" x="293" y="839.7">引言</text><path class="u k11" d="M278 842H297"/></g>
<g id="l5-4-a"><text class="t e" x="257" y="820.7">背景：说明研究的现实背景与理论背景</text><path class="u k11" d="M177 823H259"/></g>
<g id="l5-4-b"><text class="t e" x="257" y="833.7">综述：梳理已有研究并找出研究空白</text><path class="u k11" d="M181 836H259"/></g>
<g id="l5-4-c"><text class="t e" x="257" y="845.7">问题：提出本研究的问题</text><path class="u k11" d="M204 848H259"/></g>
<g id="l5-4-d"><text class="t e" x="257" y="858.7">意义：阐明研究的理论意义与实践意义</text><path class="u k11" d="M177 861H259"/></g>
<g id="l5-5"><text class="t e" x="293" y="876.7">研究方法</text><path class="u k11" d="M265 879H297"/></g>
<g id="l5-5-1"><text class="t e" x="250" y="870.7">研究对象与数据来源</text><path class="u k11" d="M201 873H252"/></g>
<g id="l5-5-1-1"><text class="t e" x="178" y="870.7">受试者与语料选择</text><path class="u k11" d="M139 873H180"/></g>
<g id="l5-5-2"><text class="t e" x="250" y="883.7">研究工具与步骤</text><path class="u k11" d="M213 886H252"/></g>
<g id="l5-5-2-1"><text class="t e" x="172" y="883.7">数据分析方法</text><path class="u k11" d="M140 886H174"/></g>
<g id="l5-6"><text class="t e" x="288" y="920.7">讨论</text><path class="u k11" d="M277 923H297"/></g>
<g id="l5-6-1"><text class="t e" x="257" y="920.7">讨论：结合已有研究对研究发现进行解释</text><path class="u k11" d="M155 923H259"/></g>
<g id="l5-6-a"><text class="t e" x="140" y="894.7">1 研究发现总结</text><path class="u k11" d="M106 897H142"/></g>
<g id="l5-6-b"><text class="t e" x="140" y="907.7">2 与已有研究比较</text><path class="u k11" d="M102 910H142"/></g>
<g id="l5-6-c"><text class="t e" x="140" y="920.7">3 研究的理论启示</text><path class="u k11" d="M102 923H142"/></g>
<g id="l5-6-d"><text class="t e" x="140" y="933.7">4 研究的实践启示</text><path class="u k11" d="M102 936H142"/></g>
<g id="l5-6-e"><text class="t e" x="140" y="945.7">5 研究局限与展望</text><path class="u k11" d="M102 948H142"/></g>

<!-- L6 -->
<g id="l6"><text class="h" x="345" y="999">课程总结</text><path class="ut" stroke="#e4504a" d="M333 1004H392"/></g>
<g id="l6-1"><text class="t e" x="317" y="979.7">内容回顾</text><path class="u k12" d="M290 982H319"/></g>
<g id="l6-1-a"><text class="t e" x="278" y="961.7">文献阅读与评价的意义</text><path class="u k12" d="M230 964H280"/></g>
<g id="l6-1-b"><text class="t e" x="278" y="973.7">如何找到研究问题</text><path class="u k12" d="M239 976H280"/></g>
<g id="l6-1-c"><text class="t e" x="278" y="986.7">如何阅读、评价、管理与使用文献</text><path class="u k12" d="M207 989H280"/></g>
<g id="l6-1-d"><text class="t e" x="278" y="998.7">如何撰写学术论文</text><path class="u k12" d="M239 1001H280"/></g>
<g id="l6-2"><text class="t e" x="317" y="1023.7">参考书目</text><path class="u k12" d="M290 1026H319"/></g>
<g id="l6-2-a"><text class="t e" x="275" y="1010.7">《外语教学与研究方法》——文秋芳等（2004）【M】外语教学与研究出版社</text><path class="u k12" d="M133 1013H277"/></g>
<g id="l6-2-b"><text class="t e" x="275" y="1023.7">Nunan, D. 《外语教学研究方法》【M】上海：上海外语教育出版社，2011（第二版），pp. 1-256</text><path class="u k12" d="M82 1026H277"/></g>
<g id="l6-2-b1"><text class="t e" x="75" y="1023.7">《如何做研究》</text><path class="u k12" d="M36 1026H77"/></g>
<g id="l6-2-c"><text class="t e" x="275" y="1035.7">The Craft of Research. Booth, W. C. et al. 2008. Chicago: UCP</text><path class="u k12" d="M136 1038H277"/></g>
</svg>
